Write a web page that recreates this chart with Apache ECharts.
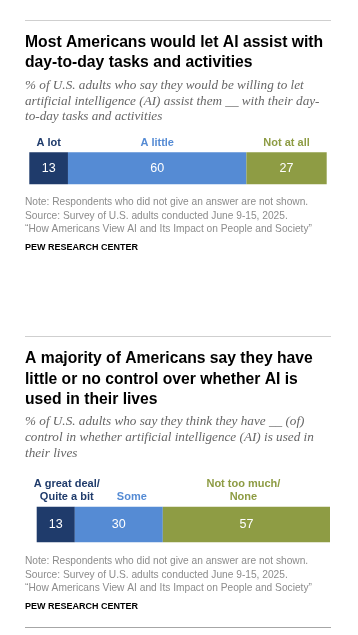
<!DOCTYPE html>
<html><head><meta charset="utf-8">
<script src="https://cdn.jsdelivr.net/npm/echarts@6/dist/echarts.min.js"></script>
<style>html,body{margin:0;padding:0;background:#fff}#c{width:358px;height:635px}</style>
</head><body><div id="c"></div>
<script>
// Chart 1 data
const cats1 = ['A lot', 'A little', 'Not at all'];
const vals1 = [13, 60, 27];
// Chart 2 data
const cats2 = ['A great deal/\nQuite a bit', 'Some', 'Not too much/\nNone'];
const vals2 = [13, 30, 57];
const colors = ['#1f3b6b', '#558bd4', '#8e9c44'];

const title1 = 'Most Americans would let AI assist with\nday-to-day tasks and activities';
const sub1 = '% of U.S. adults who say they would be willing to let\nartificial intelligence (AI) assist them __ with their day-\nto-day tasks and activities';
const title2 = 'A majority of Americans say they have\nlittle or no control over whether AI is\nused in their lives';
const sub2 = '% of U.S. adults who say they think they have __ (of)\ncontrol in whether artificial intelligence (AI) is used in\ntheir lives';
const note = 'Note: Respondents who did not give an answer are not shown.\nSource: Survey of U.S. adults conducted June 9-15, 2025.\n\u201cHow Americans View AI and Its Impact on People and Society\u201d';
const pew = 'PEW RESEARCH CENTER';

const sans = '"Liberation Sans", Arial, sans-serif';
const serif = '"Liberation Serif", Georgia, serif';

function t(text, top, style) {
  return { text, left: 25, top, padding: 0, itemGap: 0, textStyle: style };
}
const titleStyle = { fontFamily: sans, fontWeight: 'bold', fontSize: 15.7, color: '#000', lineHeight: 20.5 };
const subStyle = { fontFamily: serif, fontStyle: 'italic', fontWeight: 'normal', fontSize: 13.2, color: '#666', lineHeight: 15.8 };
const noteStyle = { fontFamily: sans, fontWeight: 'normal', fontSize: 10.2, color: '#8c8c8c', lineHeight: 13.3 };
const pewStyle = { fontFamily: sans, fontWeight: 'bold', fontSize: 9, color: '#000', lineHeight: 10 };

const nameOffsets2 = [[11, 0], [13, 0], [-3, 0]];

function barSeries(vals, cats, axisIdx, offsets) {
  const out = [];
  vals.forEach((v, i) => {
    out.push({
      type: 'bar', name: cats[i], stack: 's' + axisIdx, xAxisIndex: axisIdx, yAxisIndex: axisIdx,
      data: [v], barWidth: '100%', itemStyle: { color: colors[i] },
      label: { show: true, position: 'inside', color: '#fff', fontFamily: sans, fontSize: 12.5, formatter: '{c}' },
      silent: true
    });
  });
  vals.forEach((v, i) => {
    out.push({
      type: 'bar', name: 'n' + cats[i], stack: 'n' + axisIdx, xAxisIndex: axisIdx, yAxisIndex: axisIdx,
      data: [v], barWidth: '100%', barGap: '-100%', itemStyle: { color: 'transparent' },
      label: { show: true, position: 'top', distance: 3, color: colors[i], fontFamily: sans, fontWeight: 'bold', fontSize: 11, lineHeight: 13.4,
        formatter: cats[i], offset: offsets ? offsets[i] : [0, 0], align: 'center' },
      silent: true
    });
  });
  return out;
}

const chart = echarts.init(document.getElementById('c'), null, { renderer: 'canvas' });
chart.setOption({
  animation: false,
  title: [
    t(title1, 32, titleStyle),
    t(sub1, 77.5, subStyle),
    t(note, 196, noteStyle),
    t(pew, 242.5, pewStyle),
    t(title2, 348.7, titleStyle),
    t(sub2, 414, subStyle),
    t(note, 555, noteStyle),
    t(pew, 601.5, pewStyle)
  ],
  graphic: [
    { type: 'line', shape: { x1: 25, y1: 20.5, x2: 331, y2: 20.5 }, style: { stroke: '#cfcfcf', lineWidth: 1 } },
    { type: 'line', shape: { x1: 25, y1: 336.5, x2: 331, y2: 336.5 }, style: { stroke: '#cfcfcf', lineWidth: 1 } },
    { type: 'line', shape: { x1: 25, y1: 627.5, x2: 331, y2: 627.5 }, style: { stroke: '#a6a6a6', lineWidth: 1 } }
  ],
  grid: [
    { left: 29.3, right: 31.3, top: 152.3, height: 32 },
    { left: 36.7, right: 28, top: 506.7, height: 35.6 }
  ],
  xAxis: [
    { type: 'value', gridIndex: 0, min: 0, max: 100, show: false },
    { type: 'value', gridIndex: 1, min: 0, max: 100, show: false }
  ],
  yAxis: [
    { type: 'category', gridIndex: 0, data: ['q1'], show: false },
    { type: 'category', gridIndex: 1, data: ['q2'], show: false }
  ],
  series: [].concat(barSeries(vals1, cats1, 0, null), barSeries(vals2, cats2, 1, nameOffsets2))
});
</script></body></html>
